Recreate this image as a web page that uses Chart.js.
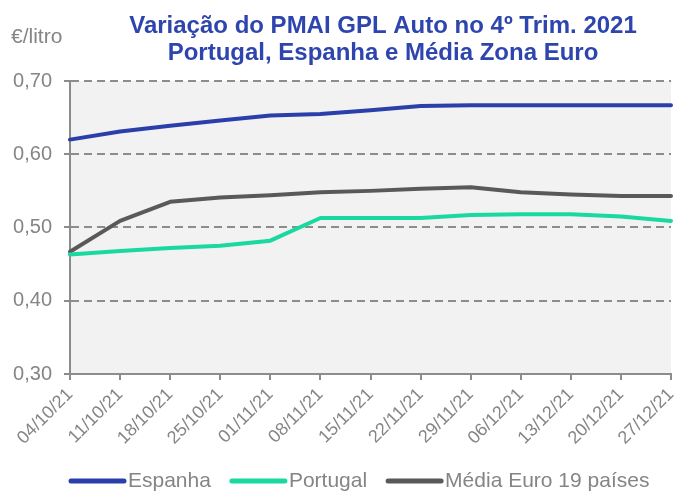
<!DOCTYPE html>
<html>
<head>
<meta charset="utf-8">
<script src="https://cdn.jsdelivr.net/npm/chart.js@4.4.0/dist/chart.umd.min.js"></script>
<style>
  html, body { margin: 0; padding: 0; background: #fff; }
</style>
</head>
<body>
<canvas id="chart" width="677" height="491"></canvas>
<script>
const dates = ['04/10/21', '11/10/21', '18/10/21', '25/10/21', '01/11/21', '08/11/21', '15/11/21',
               '22/11/21', '29/11/21', '06/12/21', '13/12/21', '20/12/21', '27/12/21'];
const espanha   = [0.620, 0.631, 0.639, 0.646, 0.653, 0.655, 0.660, 0.666, 0.667, 0.667, 0.667, 0.667, 0.667];
const portugal  = [0.463, 0.468, 0.472, 0.475, 0.482, 0.513, 0.513, 0.513, 0.517, 0.518, 0.518, 0.515, 0.509];
const mediaEuro = [0.467, 0.509, 0.535, 0.541, 0.544, 0.548, 0.550, 0.553, 0.555, 0.548, 0.545, 0.543, 0.543];

const titleLines = ['Variação do PMAI GPL Auto no 4º Trim. 2021', 'Portugal, Espanha e Média Zona Euro'];
const unitLabel = '€/litro';

const FONT = "'Liberation Sans', Arial, sans-serif";
const GREY_TXT = '#858585';
const GREY_AX = '#8c8c8c';

Chart.defaults.font.family = FONT;

// grey plot area behind the lines
const plotBg = {
    id: 'plotBg',
    beforeDraw(chart) {
        const { ctx, chartArea: a } = chart;
        ctx.save();
        ctx.fillStyle = '#f2f2f2';
        ctx.fillRect(a.left, a.top, a.right - a.left, a.bottom - a.top);
        ctx.restore();
    }
};

// title, unit label and legend
const extras = {
    id: 'extras',
    afterDraw(chart) {
        const ctx = chart.ctx;
        ctx.save();
        ctx.fillStyle = '#2f45ae';
        ctx.font = 'bold 24px ' + FONT;
        ctx.textAlign = 'center';
        ctx.textBaseline = 'alphabetic';
        ctx.fillText(titleLines[0], 383, 33);
        ctx.fillText(titleLines[1], 383, 60);

        ctx.fillStyle = GREY_TXT;
        ctx.font = '21px ' + FONT;
        ctx.textAlign = 'left';
        ctx.textBaseline = 'middle';
        ctx.fillText(unitLabel, 11, 37);

        let x = 71;
        const y = 481;
        chart.data.datasets.forEach(ds => {
            ctx.strokeStyle = ds.borderColor;
            ctx.lineWidth = 5;
            ctx.lineCap = 'round';
            ctx.beginPath();
            ctx.moveTo(x, y);
            ctx.lineTo(x + 53, y);
            ctx.stroke();
            x += 57;
            ctx.fillStyle = GREY_TXT;
            ctx.fillText(ds.label, x, y);
            x += ctx.measureText(ds.label).width + 21;
        });
        ctx.restore();
    }
};

const ctx = document.getElementById('chart').getContext('2d');

new Chart(ctx, {
    type: 'line',
    data: {
        labels: dates,
        datasets: [
            { label: 'Espanha', data: espanha, borderColor: '#2b3fab', backgroundColor: '#2b3fab' },
            { label: 'Portugal', data: portugal, borderColor: '#19d9a0', backgroundColor: '#19d9a0' },
            { label: 'Média Euro 19 países', data: mediaEuro, borderColor: '#595959', backgroundColor: '#595959' }
        ]
    },
    options: {
        responsive: false,
        devicePixelRatio: 1,
        animation: false,
        layout: { padding: { top: 81, right: 6, bottom: 45, left: 0 } },
        elements: {
            line: { borderWidth: 4, tension: 0, borderJoinStyle: 'round', borderCapStyle: 'round' },
            point: { radius: 0 }
        },
        plugins: {
            legend: { display: false },
            title: { display: false },
            tooltip: { enabled: false }
        },
        scales: {
            x: {
                offset: false,
                grid: { drawOnChartArea: false, drawTicks: true, tickLength: 6, color: GREY_AX, lineWidth: 2 },
                border: { color: GREY_AX, width: 2 },
                ticks: {
                    autoSkip: false, minRotation: 45, maxRotation: 45, padding: 4,
                    color: GREY_TXT, font: { size: 18 }
                },
                afterFit: s => {
                    s.height = 72;
                    s.paddingLeft = 0;
                    s.paddingRight = 0;
                }
            },
            y: {
                min: 0.3,
                max: 0.7,
                grid: { color: GREY_AX, lineWidth: 2, tickLength: 6 },
                border: { color: GREY_AX, width: 2, dash: [8, 5] },
                ticks: {
                    stepSize: 0.1, padding: 12, color: GREY_TXT, font: { size: 20 },
                    callback: v => v.toFixed(2).replace('.', ',')
                },
                afterFit: s => { s.width = 70; }
            }
        }
    },
    plugins: [plotBg, extras]
});
</script>
</body>
</html>
